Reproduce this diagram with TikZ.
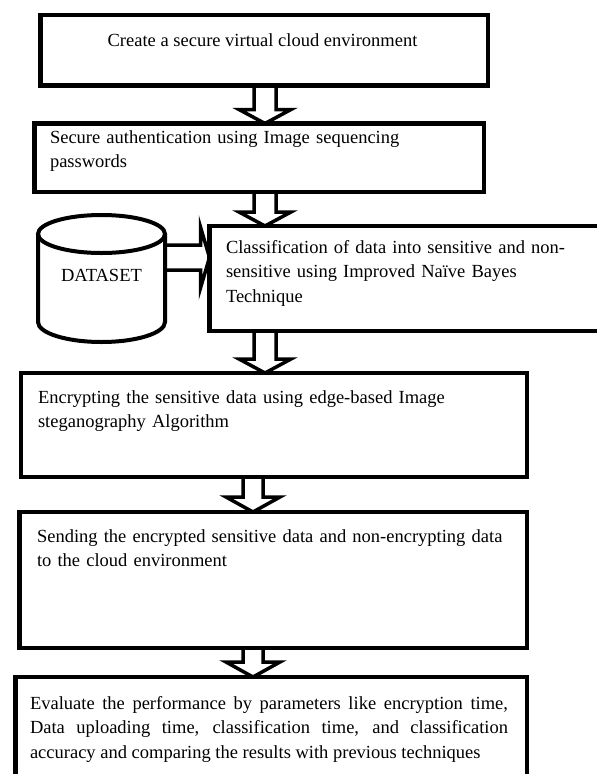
\documentclass[tikz,border=0pt]{standalone}
\usepackage{fontspec}
\setmainfont{Liberation Serif}
\usetikzlibrary{calc}

% hollow block arrow pointing down from one box to the next
% #1 from node, #2 to node, #3 centre x, #4 shaft half width,
% #5 head half width, #6 head length
\newcommand{\blockdown}[6]{%
  \draw[blockarr] let \p1=(#1.south), \p2=(#2.north) in
    (#3pt-#4pt,\y1) -- (#3pt-#4pt,\y2+#6pt) -- (#3pt-#5pt,\y2+#6pt) -- (#3pt,\y2)
    -- (#3pt+#5pt,\y2+#6pt) -- (#3pt+#4pt,\y2+#6pt) -- (#3pt+#4pt,\y1);}

\begin{document}
\begin{tikzpicture}[x=1pt, y=-1pt,
  box/.style={draw, rectangle, line width=4.5pt, inner sep=0pt, outer sep=0pt},
  txt/.style={inner sep=0pt, outer sep=0pt,
    font=\fontsize{18.5pt}{24.5pt}\selectfont, align=left},
  para/.style={txt, anchor=base west, text width=#1},
  para/.default=470pt,
  blockarr/.style={draw, line width=3.5pt, line join=miter},
  cyl/.style={draw, line width=4pt},
]
\useasboundingbox (0,0) rectangle (597,774);

% process boxes
\node[box, minimum width=447.5pt, minimum height=70.5pt] (b1) at (264.25,50.25) {};
\node[box, minimum width=449.5pt, minimum height=68.5pt] (b2) at (259.25,157.75) {};
\node[box, minimum width=402.5pt, minimum height=105pt] (b3) at (410.75,278.5) {};
\node[box, minimum width=506pt, minimum height=104pt] (b4) at (274,425) {};
\node[box, minimum width=507.5pt, minimum height=136pt] (b5) at (273.25,580) {};
\node[box, minimum width=511.5pt, minimum height=123pt] (b6) at (271.25,738.5) {};

% dataset cylinder
\node[txt, minimum width=127pt, minimum height=10pt] (ds) at (101.5,275) {DATASET};
\draw[cyl] (101.5,234) ellipse [x radius=63.5pt, y radius=19pt];
\draw[cyl] (38,234) -- (38,322)
  arc[start angle=180, end angle=360, x radius=63.5pt, y radius=20pt] -- (165,234);

% box texts
\node[txt, anchor=base] (t1) at (262.5,46) {Create a secure virtual cloud environment};
\node[para] (t2) at (50,143)
  {Secure authentication using Image sequencing\\passwords};
\node[para=360pt] (t3) at (226,253)
  {Classification of data into sensitive and non-\\sensitive using Improved Naïve Bayes\\Technique};
\node[para] (t4) at (38,403)
  {Encrypting the sensitive data using edge-based Image\\steganography Algorithm};
\node[para] (t5) at (37,542)
  {Sending the encrypted sensitive data and non-encrypting data\\to the cloud environment};
\node[para=478pt, align=justify] (t6) at (30,709)
  {\tolerance=10000 Evaluate the performance by parameters like encryption time,\linebreak
   Data uploading time, classification time, and classification\linebreak
   accuracy and comparing the results with previous techniques};

% flow arrows
\blockdown{b1}{b2}{265}{11}{26}{14}
\blockdown{b2}{b3}{265}{11}{26}{14}
\blockdown{b3}{b4}{265}{11}{26}{14}
\blockdown{b4}{b5}{253}{10}{27}{15}
\blockdown{b5}{b6}{253}{10}{27}{15}
\draw[blockarr] let \p1=(ds.east), \p2=(b3.west) in
  (\x1,-245pt) -- (\x2-9pt,-245pt) -- (\x2-9pt,-227pt) -- (\x2,-257.5pt)
  -- (\x2-9pt,-288pt) -- (\x2-9pt,-270pt) -- (\x1,-270pt);
\end{tikzpicture}
\end{document}
